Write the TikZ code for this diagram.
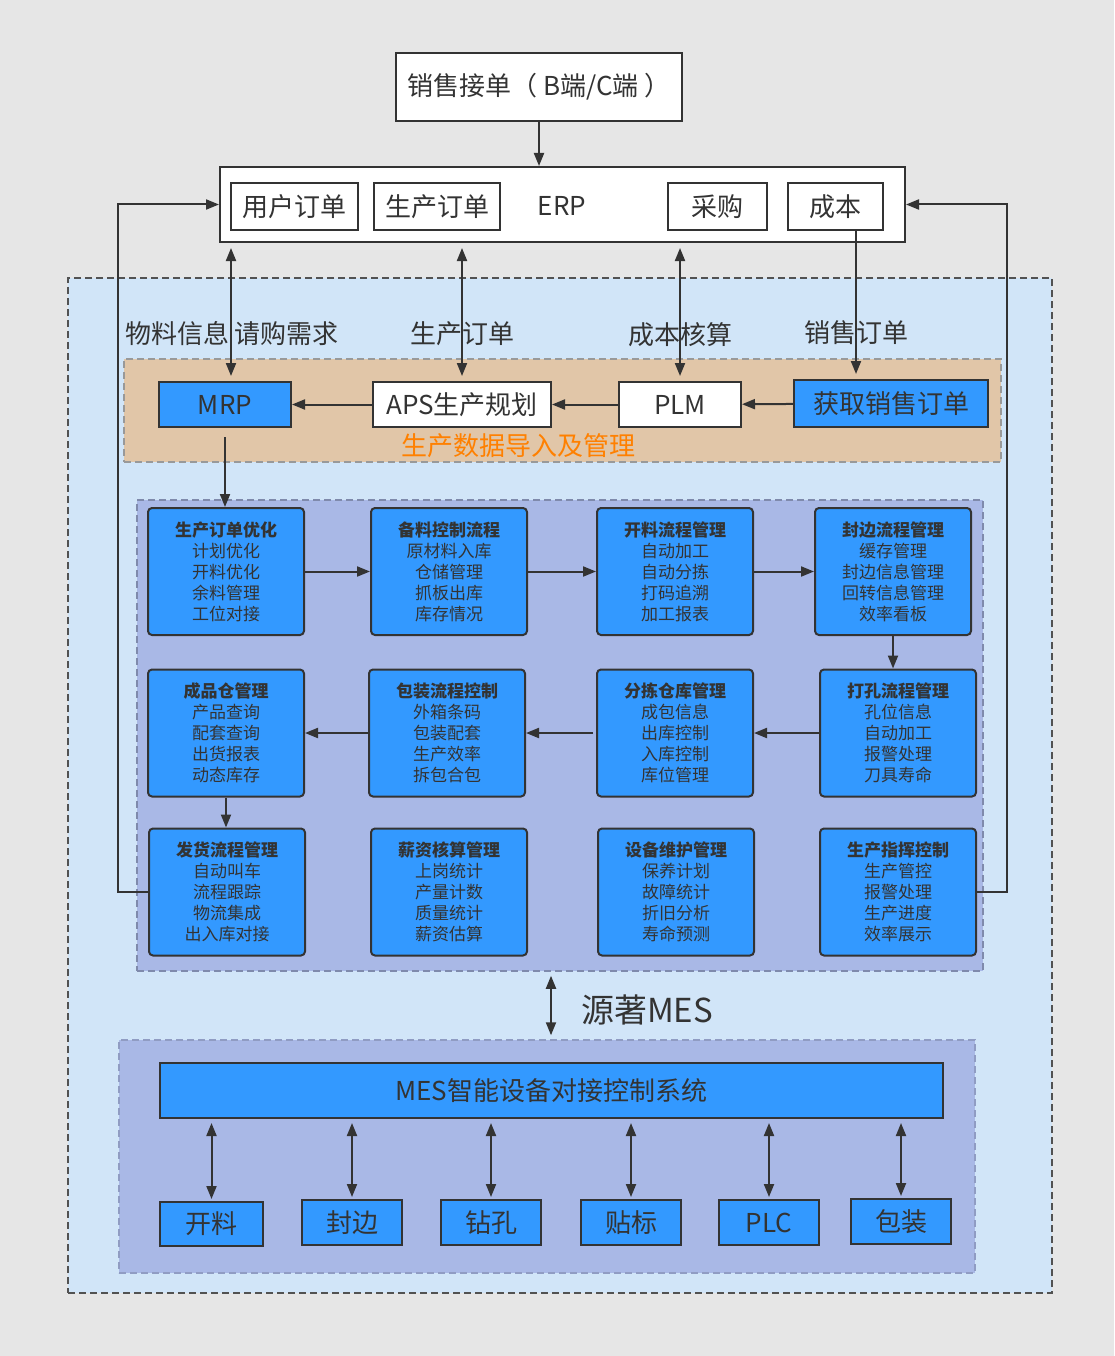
\documentclass[tikz,border=0pt]{standalone}
\usepackage{fontspec}
\setmainfont{Noto Sans CJK SC}
\usetikzlibrary{arrows.meta}
\definecolor{bg}{HTML}{E6E6E6}
\definecolor{lb}{HTML}{D1E5F8}
\definecolor{tanc}{HTML}{E1C6A8}
\definecolor{pur}{HTML}{A9B8E6}
\definecolor{blu}{HTML}{3399FF}
\definecolor{dk}{HTML}{333333}
\definecolor{org}{HTML}{FF8000}
\tikzset{
 wbox/.style={draw=dk, line width=2pt, fill=white, inner sep=0pt, text=dk, font=\fontsize{26}{30}\selectfont},
 bbox/.style={wbox, fill=blu},
 ibox/.style={wbox, line width=1.6pt},
 mod/.style={bbox, rounded corners=4pt, minimum width=156pt, minimum height=127pt, align=center, font=\fontsize{17}{21}\selectfont},
 arr/.style={draw=dk, line width=2pt, -{Triangle[length=13pt,width=10pt]}},
 darr/.style={draw=dk, line width=2pt, {Triangle[length=13pt,width=10pt]}-{Triangle[length=13pt,width=10pt]}},
 lab/.style={text=dk, inner sep=0pt, font=\fontsize{26}{30}\selectfont},
 region/.style={inner sep=0pt, dash pattern=on 7pt off 4pt, line width=1.5pt},
}
\begin{document}
\begin{tikzpicture}[x=1pt,y=-1pt]
\useasboundingbox (0,0) rectangle (1114,1356);
\fill[bg] (0,0) rectangle (1114,1356);
% regions
\node[region, draw=dk!85, fill=lb, minimum width=984pt, minimum height=1015pt] (outer) at (560,785.5) {};
\node[region, draw=black!40, fill=tanc, minimum width=877pt, minimum height=103pt] (tanreg) at (562.5,410.5) {};
\node[region, draw=black!25!pur, fill=pur, minimum width=846pt, minimum height=471pt] (modreg) at (560,735.5) {};
\node[region, draw=black!15!pur, fill=pur, minimum width=856pt, minimum height=233pt] (devreg) at (547,1156.5) {};
% top
\node[wbox, minimum width=286pt, minimum height=68pt] (sale) at (539,87) {销售接单（ B端/C端 ）};
\node[wbox, minimum width=685pt, minimum height=75pt] (erp) at (562.5,204.5) {};
\node[lab] (erpt) at (562,206) {ERP};
\node[ibox, minimum width=127pt, minimum height=47pt] (yhdd) at (294.5,206.5) {用户订单};
\node[ibox, minimum width=126pt, minimum height=47pt] (scdd) at (437,206.5) {生产订单};
\node[ibox, minimum width=99pt, minimum height=47pt] (cg) at (717.5,206.5) {采购};
\node[ibox, minimum width=95pt, minimum height=47pt] (cb) at (835.5,206.5) {成本};
\draw[arr] (sale.south) -- (sale.south |- erp.north);
% labels
\node[lab] (l1) at (232,334) {物料信息 请购需求};
\node[lab] (l2) at (462,334) {生产订单};
\node[lab] (l3) at (680,335) {成本核算};
\node[lab] (l4) at (856,333) {销售订单};
% tan row
\node[bbox, minimum width=132pt, minimum height=45pt] (mrp) at (225,404.5) {MRP};
\node[wbox, minimum width=178pt, minimum height=45pt] (aps) at (462,404.5) {APS生产规划};
\node[wbox, minimum width=122pt, minimum height=45pt] (plm) at (680,404.5) {PLM};
\node[bbox, minimum width=194pt, minimum height=47pt] (hq) at (891,403.5) {获取销售订单};
\node[text=org, inner sep=0pt, font=\fontsize{26}{30}\selectfont] (tant) at (518,446) {生产数据导入及管理};
\draw[arr] (aps) -- (mrp);
\draw[arr] (plm) -- (aps);
\draw[arr] (hq) -- (plm);
\draw[darr, shorten <=5pt, shorten >=5pt] (231,0 |- erp.south) -- (231,0 |- mrp.north);
\draw[darr, shorten <=5pt, shorten >=5pt] (462,0 |- erp.south) -- (aps.north);
\draw[darr, shorten <=5pt, shorten >=5pt] (680,0 |- erp.south) -- (plm.north);
\draw[arr, shorten >=5pt] (856,0 |- cb.south) -- (856,0 |- hq.north);
% modules
\node[mod] (m11) at (226,571.5) {\textbf{生产订单优化}\\计划优化\\开料优化\\余料管理\\工位对接};
\node[mod] (m12) at (449,571.5) {\textbf{备料控制流程}\\原材料入库\\仓储管理\\抓板出库\\库存情况};
\node[mod] (m13) at (675,571.5) {\textbf{开料流程管理}\\自动加工\\自动分拣\\打码追溯\\加工报表};
\node[mod] (m14) at (893,571.5) {\textbf{封边流程管理}\\缓存管理\\封边信息管理\\回转信息管理\\效率看板};
\node[mod] (m21) at (226,733) {\textbf{成品仓管理}\\产品查询\\配套查询\\出货报表\\动态库存};
\node[mod] (m22) at (447,733) {\textbf{包装流程控制}\\外箱条码\\包装配套\\生产效率\\拆包合包};
\node[mod] (m23) at (675,733) {\textbf{分拣仓库管理}\\成包信息\\出库控制\\入库控制\\库位管理};
\node[mod] (m24) at (898,733) {\textbf{打孔流程管理}\\孔位信息\\自动加工\\报警处理\\刀具寿命};
\node[mod] (m31) at (227,892) {\textbf{发货流程管理}\\自动叫车\\流程跟踪\\物流集成\\出入库对接};
\node[mod] (m32) at (449,892) {\textbf{薪资核算管理}\\上岗统计\\产量计数\\质量统计\\薪资估算};
\node[mod] (m33) at (676,892) {\textbf{设备维护管理}\\保养计划\\故障统计\\折旧分析\\寿命预测};
\node[mod] (m34) at (898,892) {\textbf{生产指挥控制}\\生产管控\\报警处理\\生产进度\\效率展示};
\draw[arr, shorten <=9pt] (mrp.south) -- (mrp.south |- m11.north);
\draw[arr] (m11) -- (m12);
\draw[arr] (m12) -- (m13);
\draw[arr] (m13) -- (m14);
\draw[arr] (m14.south) -- (m14.south |- m24.north);
\draw[arr] (m24) -- (m23);
\draw[arr, shorten <=3pt] (m23) -- (m22);
\draw[arr] (m22) -- (m21);
\draw[arr] (m21.south) -- (m21.south |- m31.north);
\draw[arr] (m31.west) -- ++(-30,0) |- (erp.west);
\draw[arr] (m34.east) -- ++(30,0) |- (erp.east);
% MES
\draw[darr, shorten <=4pt, shorten >=4pt] (551,0 |- modreg.south) -- (551,0 |- devreg.north);
\node[lab, font=\fontsize{33}{36}\selectfont] (yz) at (647,1010) {源著MES};
\node[bbox, minimum width=783pt, minimum height=55pt] (mes) at (551.5,1090.5) {MES智能设备对接控制系统};
\node[bbox, minimum width=103pt, minimum height=44pt] (d1) at (211.5,1224) {开料};
\node[bbox, minimum width=100pt, minimum height=45pt] (d2) at (352,1222.5) {封边};
\node[bbox, minimum width=100pt, minimum height=45pt] (d3) at (491,1222.5) {钻孔};
\node[bbox, minimum width=100pt, minimum height=45pt] (d4) at (631,1222.5) {贴标};
\node[bbox, minimum width=100pt, minimum height=45pt] (d5) at (769,1222.5) {PLC};
\node[bbox, minimum width=100pt, minimum height=45pt] (d6) at (901,1221.5) {包装};
\foreach \d in {d1,d2,d3,d4,d5,d6}
  \draw[darr, shorten <=4pt, shorten >=2pt] (mes.south -| \d.north) -- (\d.north);
\end{tikzpicture}
\end{document}
